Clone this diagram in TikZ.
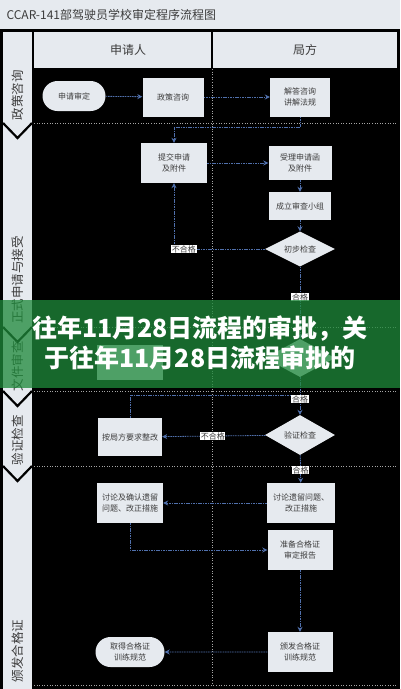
\documentclass[tikz,border=0pt]{standalone}
\usepackage{fontspec}
\setmainfont{Noto Sans CJK SC}
\usepackage{xcolor}
\usepackage{tikz}
\usetikzlibrary{positioning, arrows.meta, shapes.geometric, shapes.misc}
\definecolor{paper}{HTML}{E6EAEF}
\definecolor{ink}{HTML}{3C3C3C}
\definecolor{flowblue}{HTML}{5070AC}
\definecolor{banner}{HTML}{1F8A3B}

\begin{document}
\begin{tikzpicture}[x=1pt, y=-1pt,
    proc/.style={rectangle, fill=paper, minimum width=64pt, minimum height=38pt, inner sep=1pt, align=center, text=ink, font=\fontsize{8}{11}\selectfont},
    term/.style={proc, rounded rectangle, minimum height=30pt},
    check/.style={diamond, fill=paper, aspect=1.8, minimum width=70pt, minimum height=38pt, inner sep=0pt, text=ink, font=\fontsize{8}{10}\selectfont},
    flow/.style={draw=flowblue, line width=0.8pt, dash pattern=on 1.6pt off 0.8pt, -{Stealth[length=5pt, width=5pt]}},
    link/.style={draw=flowblue, line width=0.8pt, dash pattern=on 1.6pt off 0.8pt},
    lbl/.style={fill=white, inner sep=0.6pt, text=ink, font=\fontsize{8}{9}\selectfont},
    lane/.style={rotate=90, text=ink, font=\fontsize{12.5}{14}\selectfont},
    head/.style={text=ink, font=\fontsize{12}{14}\selectfont},
    sep/.style={draw=gray!70, dotted, line width=0.6pt},
]
\useasboundingbox (0,0) rectangle (400,689);
\fill[black] (0,0) rectangle (400,689);

% Title and header cells
\fill[paper] (0,0) rectangle (400,29);
\node[head, anchor=west] (title) at (3,15) {CCAR-141部驾驶员学校审定程序流程图};
\fill[paper] (3,32) rectangle (32,689);
\fill[paper] (34,32) rectangle (211,68);
\fill[paper] (213,32) rectangle (397,68);
\node[head] (hApp) at (128,50) {申请人};
\node[head] (hCAA) at (305,50) {局方};

% Phase lanes
\foreach \y in {123,327,391,466}
    \draw[line width=2.2pt] (3,\y) -- (17.5,\y+15) -- (32,\y);
\foreach \y in {123,327,391,466,685}
    \draw[sep] (34,\y) -- (396,\y);
\draw[sep] (212,69) -- (212,685);
\node[lane] (p1) at (18,95) {政策咨询};
\node[lane] (p2) at (18,280) {正式申请与接受};
\node[lane] (p3) at (18,366) {文件审查};
\node[lane] (p4) at (18,440) {验证检查};
\node[lane] (p5) at (18,651) {颁发合格证};

% Applicant side
\node[term, minimum width=65pt] (apply) at (74,96) {申请审定};
\node[proc, minimum width=61pt, minimum height=39pt] (consult) at (173,97) {政策咨询};
\node[proc, minimum width=66pt, minimum height=40pt] (submit) at (174,163) {提交申请\\及附件};
\node[proc, minimum width=66pt, minimum height=35pt] (docfix) at (130,362) {};
\node[proc] (rectify) at (130,437) {按局方要求整改};
\node[proc, minimum width=66pt, minimum height=40pt] (confirm) at (130,503) {讨论及确认遗留\\问题、改正措施};
\node[term, minimum width=71pt] (obtain) at (130,652) {取得合格证\\训练规范};

% Authority side
\node[proc, minimum width=60pt, minimum height=39pt] (answer) at (300,97) {解答咨询\\讲解法规};
\node[proc, minimum width=63pt, minimum height=34pt] (accept) at (300,163) {受理申请函\\及附件};
\node[proc, minimum width=62pt, minimum height=28pt] (team) at (300,206) {成立审查小组};
\node[check, minimum height=35pt] (precheck) at (300,249) {初步检查};
\node[check] (docchk) at (300,358) {};
\node[check, minimum height=40pt] (verify) at (300,435) {验证检查};
\node[proc, minimum width=68pt, minimum height=40pt] (discuss) at (301,503) {讨论遗留问题、\\改正措施};
\node[proc, minimum width=65pt, minimum height=40pt] (report) at (300,550) {准备合格证\\审定报告};
\node[proc, minimum width=65pt, minimum height=40pt] (issue) at (300,652) {颁发合格证\\训练规范};

\coordinate (j1) at (300,127);
\coordinate (j2) at (300,395);

% Flow
\draw[flow] (apply) -- (consult);
\draw[flow] (consult) -- (answer);
\draw[link] (answer) -- (j1);
\draw[flow] (j1) -| (submit);
\draw[flow] (submit) -- (accept);
\draw[flow] (accept) -- (team);
\draw[flow] (team) -- (precheck);
\draw[flow] (precheck) -| node[lbl, pos=0.445] {不合格} (submit);
\draw[flow] (precheck) -- node[lbl, pos=0.42] {合格} (docchk);
\draw[link] (rectify) |- (j2);
\draw[flow] (docchk) -- node[lbl, pos=0.58] {合格} (verify);
\draw[flow] (verify) -- node[lbl, pos=0.51] {不合格} (rectify);
\draw[flow] (verify) -- node[lbl, pos=0.54] {合格} (discuss);
\draw[flow] (discuss) -- (confirm);
\draw[flow] (confirm) |- (report);
\draw[flow] (report) -- (issue);
\draw[flow] (issue) -- (obtain);

% Banner
\fill[banner, opacity=0.76] (0,300) rectangle (400,388);
\node[text=white, align=center, font=\fontsize{25}{30}\bfseries\selectfont] (caption) at (200,343)
    {往年11月28日流程的审批，关\\于往年11月28日流程审批的};
\end{tikzpicture}
\end{document}
